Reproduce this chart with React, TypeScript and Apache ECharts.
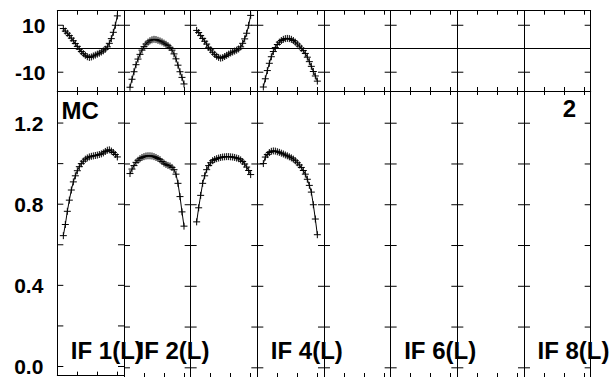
import React, { useEffect, useRef } from "react";
import * as echarts from "echarts";

// ---- data ----
const channels = [3, 4, 5, 6, 7, 8, 9, 10, 11, 12, 13, 14, 15, 16, 17, 18, 19, 20, 21, 22, 23, 24, 25, 26, 27, 28, 29, 30];

const phaseIF1 = [8.6, 7.5, 6.6, 5.6, 4.5, 3.4, 2.2, 1.0, -0.2, -1.2, -2.1, -2.8, -3.4, -3.7, -3.5, -3.1, -2.7, -2.3, -1.9, -1.4, -0.9, -0.2, 0.8, 2.3, 4.3, 7.0, 10.0, 14.0];
const phaseIF2 = [-16.4, -13.0, -9.8, -6.8, -4.4, -2.4, -0.6, 0.9, 2.0, 2.8, 3.4, 3.8, 4.0, 3.9, 3.6, 3.3, 2.9, 2.4, 1.9, 1.3, 0.6, -0.6, -2.2, -4.3, -7.0, -9.8, -12.2, -15.0];
const phaseIF3 = [7.8, 6.9, 5.6, 4.4, 3.2, 2.0, 0.6, -0.5, -1.5, -2.4, -3.2, -3.7, -4.0, -3.8, -3.3, -2.8, -2.3, -1.8, -1.4, -1.0, -0.6, -0.1, 0.8, 2.3, 4.2, 6.6, 10.0, 14.2];
const phaseIF4 = [-16.3, -12.8, -9.3, -6.2, -3.4, -1.2, 0.5, 1.8, 2.8, 3.5, 4.0, 4.3, 4.4, 4.3, 4.0, 3.5, 2.8, 2.0, 1.1, 0.2, -0.8, -2.0, -3.6, -5.5, -7.5, -9.7, -11.6, -13.8];

const ampIF1 = [0.645, 0.7, 0.765, 0.82, 0.87, 0.91, 0.94, 0.965, 0.985, 1.0, 1.012, 1.022, 1.028, 1.033, 1.036, 1.038, 1.04, 1.042, 1.045, 1.048, 1.053, 1.06, 1.066, 1.068, 1.062, 1.055, 1.045, 1.033];
const ampIF2 = [0.953, 0.975, 0.992, 1.008, 1.018, 1.026, 1.032, 1.036, 1.039, 1.04, 1.04, 1.039, 1.036, 1.032, 1.027, 1.021, 1.012, 1.004, 0.998, 0.993, 0.99, 0.983, 0.972, 0.95, 0.905, 0.84, 0.765, 0.695];
const ampIF3 = [0.716, 0.785, 0.846, 0.905, 0.942, 0.972, 0.992, 1.006, 1.016, 1.022, 1.026, 1.029, 1.032, 1.034, 1.035, 1.036, 1.036, 1.035, 1.034, 1.032, 1.029, 1.026, 1.02, 1.012, 1.0, 0.985, 0.968, 0.948];
const ampIF4 = [1.002, 1.034, 1.046, 1.056, 1.062, 1.064, 1.063, 1.06, 1.057, 1.053, 1.049, 1.044, 1.04, 1.035, 1.03, 1.024, 1.016, 1.006, 0.995, 0.983, 0.968, 0.95, 0.925, 0.895, 0.862, 0.8, 0.73, 0.653];

const phaseSeries = [phaseIF1, phaseIF2, phaseIF3, phaseIF4];
const ampSeries = [ampIF1, ampIF2, ampIF3, ampIF4];

const ifLabels = ["IF 1(L)", "IF 2(L)", "", "IF 4(L)", "", "IF 6(L)", "", "IF 8(L)"];
const phaseTickValues = [-10, 10];
const phaseLabelValues = [-10, 10];
const ampTickValues = [0, 0.2, 0.4, 0.6, 0.8, 1.0, 1.2];
const ampLabelValues = [0, 0.4, 0.8, 1.2];
const sourceName = "MC";
const stokesText = "2";

// ---- layout ----
const NUM_PANELS = 8;
const PANEL_LEFT = 57.33;
const PANEL_W = 66.667;
const X_MAX = 33.333;
const TOP_Y = 10.7;
const MID_Y = 91;
const TOP_H = MID_Y - TOP_Y;
const BOT_H = 287.6;
const X_TICK_PX = 4;
const Y_TICK_PX = 6;
const FONT = '"Liberation Sans", Arial, Helvetica, sans-serif';
const BLACK = "#000";

function buildOption() {
  const grid: any[] = [];
  const xAxis: any[] = [];
  const yAxis: any[] = [];
  const series: any[] = [];
  const axisLineStyle = { color: BLACK, width: 1 };

  for (let row = 0; row < 2; row++) {
    for (let p = 0; p < NUM_PANELS; p++) {
      const g = row * NUM_PANELS + p;
      const isTop = row === 0;
      grid.push({
        left: PANEL_LEFT + p * PANEL_W,
        width: PANEL_W,
        top: isTop ? TOP_Y : MID_Y,
        height: isTop ? TOP_H : BOT_H,
        containLabel: false,
      });
      const xBase = {
        type: "value",
        gridIndex: g,
        min: 0,
        max: X_MAX,
        interval: 10,
        axisLine: { show: true, onZero: false, lineStyle: axisLineStyle },
        axisTick: { show: true, inside: true, length: X_TICK_PX, lineStyle: axisLineStyle },
        axisLabel: { show: false },
        splitLine: { show: false },
      };
      xAxis.push({ ...xBase, position: "bottom" });
      xAxis.push({ ...xBase, position: "top" });

      const yBase = {
        type: "value",
        gridIndex: g,
        min: isTop ? -18 : -0.045,
        max: isTop ? 16.2 : 1.358,
        axisLine: { show: true, onZero: false, lineStyle: axisLineStyle },
        axisTick: { show: false },
        splitLine: { show: false },
      };
      yAxis.push({
        ...yBase,
        position: "left",
        axisLabel:
          p === 0
            ? {
                show: true,
                customValues: isTop ? phaseLabelValues : ampLabelValues,
                formatter: (v: number) => (isTop ? String(Math.round(v)) : v.toFixed(1)),
                color: BLACK,
                fontFamily: FONT,
                fontWeight: "bold",
                fontSize: 21,
                margin: isTop ? 12 : 14,
              }
            : { show: false },
      });
      yAxis.push({ ...yBase, position: "right", axisLabel: { show: false } });

      // y tick marks, inside on both edges of every panel (custom series through the axes)
      const tickVals = isTop ? phaseTickValues : ampTickValues;
      series.push({
        type: "custom",
        xAxisIndex: 2 * g,
        yAxisIndex: 2 * g,
        silent: true,
        clip: false,
        data: tickVals.map((v) => [0, v]),
        renderItem: (params: any, api: any) => {
          const v = api.value(1);
          const l = api.coord([0, v]);
          const r = api.coord([X_MAX, v]);
          const style = { stroke: BLACK, lineWidth: 1 };
          return {
            type: "group",
            children: [
              { type: "line", shape: { x1: l[0], y1: l[1], x2: l[0] + Y_TICK_PX, y2: l[1] }, style },
              { type: "line", shape: { x1: r[0] - Y_TICK_PX, y1: r[1], x2: r[0], y2: r[1] }, style },
            ],
          };
        },
      });

      // zero line on the phase row
      if (isTop) {
        series.push({
          type: "line",
          xAxisIndex: 2 * g,
          yAxisIndex: 2 * g,
          data: [],
          silent: true,
          markLine: {
            silent: true,
            symbol: "none",
            label: { show: false },
            lineStyle: { color: BLACK, width: 1, type: "solid" },
            data: [{ yAxis: 0 }],
          },
        });
      }
    }
  }

  const markerStyle = {
    type: "line",
    symbol: "path://M0,-5L0,5M-5,0L5,0",
    symbolSize: 7,
    showAllSymbol: true,
    lineStyle: { color: BLACK, width: 1 },
    itemStyle: { color: BLACK, borderColor: BLACK, borderWidth: 1 },
    silent: true,
  };
  phaseSeries.forEach((vals, p) => {
    series.push({
      ...markerStyle,
      xAxisIndex: 2 * p,
      yAxisIndex: 2 * p,
      data: channels.map((c, i) => [c, vals[i]]),
    });
  });
  ampSeries.forEach((vals, p) => {
    const g = NUM_PANELS + p;
    series.push({
      ...markerStyle,
      xAxisIndex: 2 * g,
      yAxisIndex: 2 * g,
      data: channels.map((c, i) => [c, vals[i]]),
    });
  });

  const textStyle = (text: string, size: number, align: string) => ({
    text,
    fill: BLACK,
    font: `bold ${size}px ${FONT}`,
    textAlign: align,
    textVerticalAlign: "middle",
  });
  const graphic: any[] = [];
  ifLabels.forEach((lab, p) => {
    if (!lab) return;
    graphic.push({
      type: "text",
      x: PANEL_LEFT + p * PANEL_W + 13.5,
      y: 350,
      z: 100,
      style: textStyle(lab, 24, "left"),
    });
  });
  graphic.push({ type: "text", x: 61.5, y: 110, z: 100, style: textStyle(sourceName, 24, "left") });
  graphic.push({ type: "text", x: 576, y: 108.5, z: 100, style: textStyle(stokesText, 24, "right") });

  return {
    animation: false,
    backgroundColor: "#fff",
    grid,
    xAxis,
    yAxis,
    series,
    graphic,
  };
}

export default function App() {
  const ref = useRef<HTMLDivElement>(null);
  useEffect(() => {
    if (!ref.current) return;
    const chart = echarts.init(ref.current, undefined, { renderer: "svg" });
    chart.setOption(buildOption() as any);
    return () => chart.dispose();
  }, []);
  return (
    <div
      ref={ref}
      style={{ position: "fixed", left: 0, top: 0, width: 613, height: 377, background: "#fff" }}
    />
  );
}
